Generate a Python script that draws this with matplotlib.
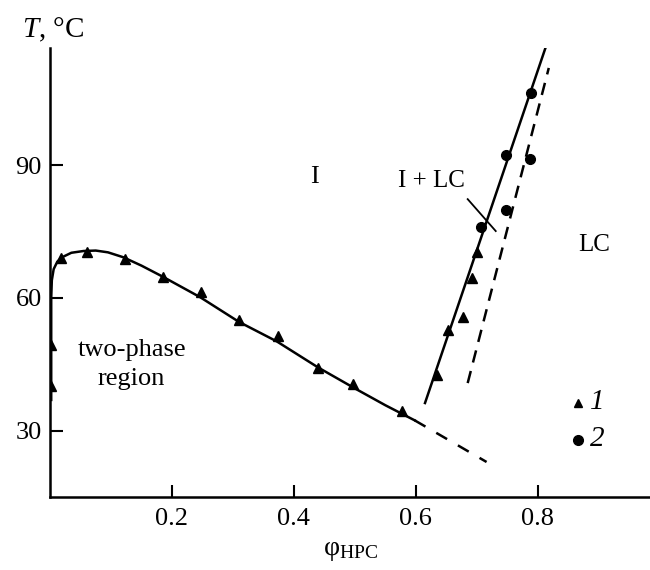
import matplotlib
matplotlib.use("Agg")
import matplotlib.pyplot as plt

# 數據 (讀自圖片)
# 兩相區邊界曲線 (實線)
curve_x = [0.002, 0.002, 0.003, 0.006, 0.012, 0.02, 0.035, 0.055, 0.075, 0.095,
           0.12, 0.15, 0.185, 0.246, 0.31, 0.372, 0.44, 0.5, 0.55, 0.598]
curve_T = [37.0, 60.0, 64.0, 66.5, 68.2, 69.2, 70.2, 70.6, 70.7, 70.3,
           69.2, 67.3, 64.8, 60.2, 54.6, 50.2, 44.3, 39.6, 35.8, 32.4]
# 曲線的虛線延伸
ext_x = [0.598, 0.716]
ext_T = [32.4, 23.0]

# I / I+LC 邊界 (實線) 與 I+LC / LC 邊界 (虛線)
i_lc_x = [0.615, 0.813]
i_lc_T = [36.3, 116.6]
lc_x = [0.685, 0.818]
lc_T = [40.8, 111.9]

# 系列 1 (三角形)
s1_x = [0.002, 0.002, 0.018, 0.061, 0.123, 0.185, 0.248, 0.310, 0.374, 0.439,
        0.497, 0.577, 0.634, 0.652, 0.677, 0.692, 0.700]
s1_T = [49.4, 40.2, 69.0, 70.4, 68.8, 64.7, 61.4, 55.0, 51.4, 44.2,
        40.6, 34.5, 42.6, 52.8, 55.7, 64.5, 70.4]
# 系列 2 (圓點)
s2_x = [0.707, 0.748, 0.748, 0.787, 0.789]
s2_T = [76.0, 79.8, 92.3, 91.4, 106.2]

x_ticks = [0.2, 0.4, 0.6, 0.8]
x_tick_labels = ["0.2", "0.4", "0.6", "0.8"]
y_ticks = [30, 60, 90]
y_tick_labels = ["30", "60", "90"]

plt.rcParams.update({
    "font.size": 19,
    "font.family": ["Liberation Serif", "DejaVu Serif"],
    "mathtext.fontset": "custom",
    "mathtext.rm": "Liberation Serif",
    "mathtext.it": "Liberation Serif:italic",
})

fig = plt.figure(figsize=(6.5, 5.7), dpi=100)
ax = fig.add_axes([50 / 650, 73 / 570, 600 / 650, 449 / 570])

ax.plot(curve_x, curve_T, color="black", linewidth=1.8)
ax.plot(ext_x, ext_T, color="black", linewidth=1.8, linestyle=(0, (5, 5)))
ax.plot(i_lc_x, i_lc_T, color="black", linewidth=1.8)
ax.plot(lc_x, lc_T, color="black", linewidth=1.8, linestyle=(0, (5, 3.5)))

ax.plot(s1_x, s1_T, linestyle="none", marker="^", color="black", markersize=7)
ax.plot(s2_x, s2_T, linestyle="none", marker="o", color="black", markersize=7)

# 標註
ax.text(0.434, 87.3, "I", ha="center", va="center", fontsize=19)
ax.text(0.626, 86.4, "I + LC", ha="center", va="center", fontsize=18)
ax.plot([0.685, 0.731], [82.3, 75.1], color="black", linewidth=1.3)
ax.text(0.892, 72.0, "LC", ha="center", va="center", fontsize=18)
ax.text(0.134, 45.0, "two-phase\nregion", ha="center", va="center",
        fontsize=19, linespacing=1.4)

# 圖例
ax.plot([0.866], [36.3], marker="^", color="black", markersize=6)
ax.text(0.885, 36.6, "1", fontstyle="italic", fontsize=21, va="center")
ax.plot([0.866], [28.0], marker="o", color="black", markersize=7)
ax.text(0.885, 28.2, "2", fontstyle="italic", fontsize=21, va="center")

ax.set_xlim(0, 0.984)
ax.set_ylim(15.1, 116.4)
ax.set_xticks(x_ticks)
ax.set_xticklabels(x_tick_labels)
ax.set_yticks(y_ticks)
ax.set_yticklabels(y_tick_labels)
ax.tick_params(direction="in", length=9, width=1.5, pad=8)
ax.tick_params(axis="y", pad=6)

for side in ["top", "right"]:
    ax.spines[side].set_visible(False)
for side in ["left", "bottom"]:
    ax.spines[side].set_linewidth(1.8)

ax.set_xlabel(r"$\mathrm{φ_{HPC}}$", fontsize=20, labelpad=6)
fig.text(22 / 650, 1 - 30 / 570, r"$T$, °C", fontsize=21, va="center", ha="left")

fig.savefig("out.png", dpi=100)
